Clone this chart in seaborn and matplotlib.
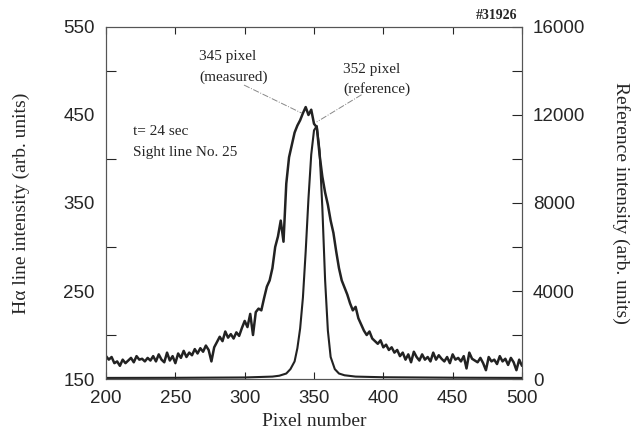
import numpy as np
import pandas as pd
import matplotlib
matplotlib.use('Agg')
import matplotlib.pyplot as plt
import seaborn as sns
from matplotlib.ticker import MultipleLocator, FixedLocator

# Dados
pixel_medido = list(range(200, 501, 2))
h_alpha = [176, 172, 175, 168, 170, 165, 172, 168, 171, 174,
           169, 176, 172, 173, 170, 174, 171, 176, 170, 178,
           172, 169, 180, 171, 176, 168, 179, 174, 182, 175,
           180, 177, 184, 179, 185, 181, 188, 183, 170, 186,
           192, 198, 193, 204, 197, 201, 196, 203, 199, 208,
           216, 209, 224, 200, 226, 230, 228, 242, 255, 262,
           276, 300, 312, 330, 306, 372, 402, 416, 430, 438,
           444, 452, 459, 450, 456, 440, 436, 405, 380, 362,
           348, 330, 316, 295, 276, 262, 254, 246, 236, 228,
           232, 219, 212, 205, 200, 204, 196, 193, 190, 194,
           186, 189, 183, 186, 180, 183, 176, 180, 172, 178,
           169, 181, 175, 171, 178, 172, 175, 170, 180, 172,
           177, 173, 170, 175, 168, 178, 172, 174, 170, 176,
           162, 180, 173, 171, 169, 174, 168, 160, 175, 170,
           172, 167, 176, 170, 173, 166, 174, 169, 160, 172,
           165]

pixel_ref = [200, 250, 300, 320, 325, 330, 333, 336, 338, 340, 342, 344,
             346, 348, 350, 352, 354, 356, 358, 360, 362, 365, 368, 372,
             380, 400, 450, 500]
intensidade_ref = [50, 55, 70, 110, 150, 250, 450, 800, 1400, 2300, 3700, 5800,
                   8200, 10200, 11300, 11500, 10400, 7800, 4500, 2200, 1000, 450,
                   250, 170, 110, 80, 60, 50]

ticks_esq = [150, 250, 350, 450, 550]
ticks_esq_menor = [200, 300, 400, 500]

df_med = pd.DataFrame({'pixel': pixel_medido, 'valor': h_alpha})
df_ref = pd.DataFrame({'pixel': pixel_ref, 'valor': intensidade_ref})

sns.set_style('ticks')
plt.rcParams['font.family'] = ['Liberation Sans', 'DejaVu Sans']
serif = ['Liberation Serif', 'DejaVu Serif']

fig = plt.figure(figsize=(6.35, 4.42), dpi=100)
ax = fig.add_axes([0.167, 0.1425, 0.655, 0.7965])
ax2 = ax.twinx()

sns.lineplot(data=df_med, x='pixel', y='valor', ax=ax, color='#222222', linewidth=1.8)
sns.lineplot(data=df_ref, x='pixel', y='valor', ax=ax2, color='#222222', linewidth=1.5)

ax.set_xlim(200, 500)
ax.set_ylim(150, 550)
ax2.set_ylim(0, 16000)
ax.xaxis.set_major_locator(MultipleLocator(50))
ax.yaxis.set_major_locator(FixedLocator(ticks_esq))
ax.yaxis.set_minor_locator(FixedLocator(ticks_esq_menor))
ax2.yaxis.set_major_locator(MultipleLocator(4000))
ax2.yaxis.set_minor_locator(MultipleLocator(2000))

ax.tick_params(axis='both', which='both', direction='in', labelsize=13.5, top=True, pad=8)
ax.tick_params(axis='y', which='major', length=0)
ax.tick_params(axis='y', which='minor', length=7, width=0.8)
ax.tick_params(axis='x', which='major', length=5, width=0.8)
ax2.tick_params(axis='y', which='both', direction='in', length=7, width=0.8,
                labelsize=13.5, pad=8)
for a in (ax, ax2):
    for s in a.spines.values():
        s.set_linewidth(0.8)
        s.set_color('#555555')

ax.set_xlabel('Pixel number', fontsize=14, family=serif, labelpad=4)
ax.set_ylabel('H\u03b1 line intensity (arb. units)', fontsize=14, family=serif, labelpad=24)
ax2.set_ylabel('Reference intensity (arb. units)', fontsize=14, family=serif,
               rotation=270, labelpad=32)

ax.text(267, 516, '345 pixel', fontsize=11, family=serif, va='center')
ax.text(267, 493, '(measured)', fontsize=11, family=serif, va='center')
ax.text(371, 502, '352 pixel', fontsize=11, family=serif, va='center')
ax.text(371, 480, '(reference)', fontsize=11, family=serif, va='center')
ax.text(219.5, 431, 't= 24 sec', fontsize=11, family=serif, va='center')
ax.text(219.5, 407, 'Sight line No. 25', fontsize=11, family=serif, va='center')

ax.plot([299.5, 341.3], [484, 452], color='#888888', linewidth=0.7, linestyle='-.')
ax.plot([384.3, 351.9], [473, 442], color='#888888', linewidth=0.7, linestyle='-.')

fig.text(0.814, 0.964, '#31926', fontsize=10, family=serif, fontweight='bold',
         ha='right', va='center')

plt.savefig('out.png', dpi=100)
